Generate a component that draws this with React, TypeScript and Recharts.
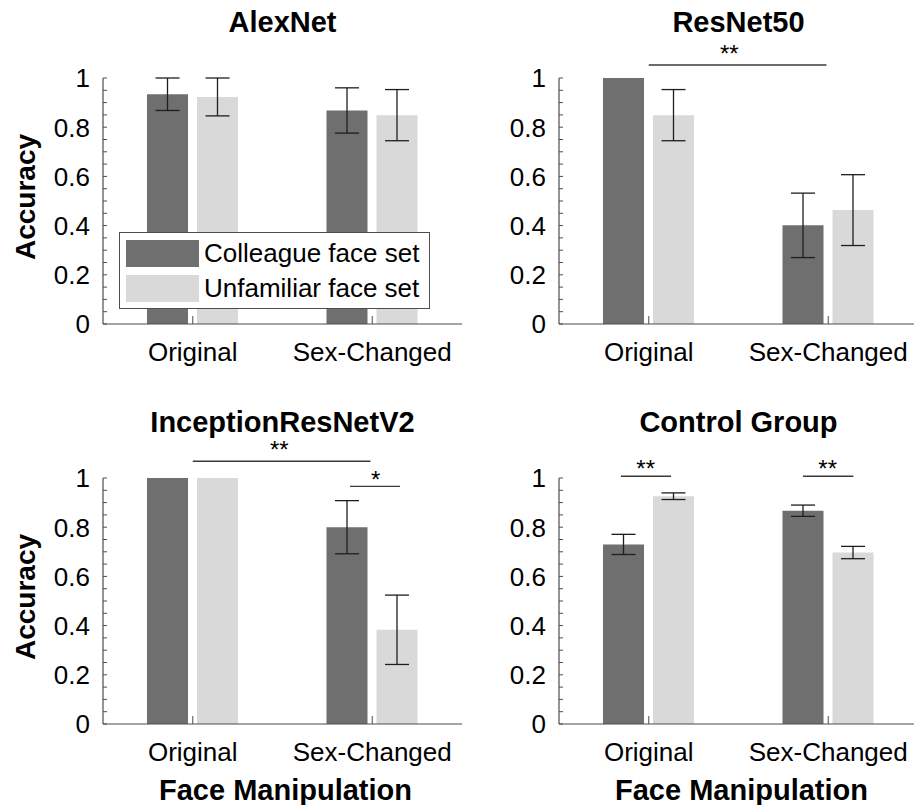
import React from "react";
import {
  BarChart,
  Bar,
  XAxis,
  YAxis,
  ErrorBar,
  Legend,
  ReferenceLine,
  ReferenceDot
} from "recharts";

const FONT = '"Liberation Sans", Arial, Helvetica, sans-serif';
const DARK = "#6f6f6f";
const LIGHT = "#d9d9d9";
const AXIS = "#4d4d4d";

const categories = ["Original", "Sex-Changed"];
const categoryPos = [1, 2];
const yTicks = [
  0, 0.05, 0.1, 0.15, 0.2, 0.25, 0.3, 0.35, 0.4, 0.45, 0.5,
  0.55, 0.6, 0.65, 0.7, 0.75, 0.8, 0.85, 0.9, 0.95, 1
];
const majorTicks = [0, 0.2, 0.4, 0.6, 0.8, 1];

// accuracy and error (half length) per category
const alexColleague = [0.934, 0.868];
const alexColleagueErr = [0.066, 0.092];
const alexUnfamiliar = [0.923, 0.849];
const alexUnfamiliarErr = [0.077, 0.104];

const resColleague = [1.0, 0.401];
const resColleagueErr = [0, 0.131];
const resUnfamiliar = [0.849, 0.463];
const resUnfamiliarErr = [0.104, 0.144];

const incColleague = [1.0, 0.8];
const incColleagueErr = [0, 0.108];
const incUnfamiliar = [1.0, 0.383];
const incUnfamiliarErr = [0, 0.141];

const ctrlColleague = [0.73, 0.867];
const ctrlColleagueErr = [0.041, 0.023];
const ctrlUnfamiliar = [0.926, 0.697];
const ctrlUnfamiliarErr = [0.0135, 0.025];

// significance brackets, x in category units (1 = Original, 2 = Sex-Changed)
const resLines = [{ x1: 1, x2: 1.99, y: 1.053 }];
const resStars = [{ x: 1.449, y: 1.121, text: "**" }];
const incLines = [
  { x1: 1, x2: 1.99, y: 1.068 },
  { x1: 1.876, x2: 2.155, y: 0.966 }
];
const incStars = [
  { x: 1.482, y: 1.136, text: "**" },
  { x: 2.019, y: 1.017, text: "*" }
];
const ctrlLines = [
  { x1: 0.845, x2: 1.124, y: 1.007 },
  { x1: 1.859, x2: 2.14, y: 1.007 }
];
const ctrlStars = [
  { x: 0.983, y: 1.061, text: "**" },
  { x: 1.997, y: 1.061, text: "**" }
];

const buildRows = (c: number[], ce: number[], u: number[], ue: number[]) =>
  categories.map((name, i) => ({
    name,
    pos: categoryPos[i],
    colleague: c[i],
    colleagueErr: ce[i],
    unfamiliar: u[i],
    unfamiliarErr: ue[i]
  }));

const YTick = (props: any) => {
  const { x, y, payload } = props;
  const v = payload.value;
  const major = majorTicks.some((m) => Math.abs(m - v) < 1e-6);
  return (
    <g>
      <line x1={x} x2={x + 4} y1={y} y2={y} stroke={AXIS} strokeWidth={1} />
      {major && (
        <text
          x={x - 13}
          y={y}
          dy="0.36em"
          textAnchor="end"
          fontSize={26}
          fill="#000"
          fontFamily={FONT}
        >
          {String(v)}
        </text>
      )}
    </g>
  );
};

const XTick = (props: any) => {
  const { x, y, payload } = props;
  return (
    <g>
      <line x1={x} x2={x} y1={y} y2={y - 8} stroke={AXIS} strokeWidth={1} />
      <text x={x} y={y + 37} textAnchor="middle" fontSize={26} fill="#000" fontFamily={FONT}>
        {payload.value}
      </text>
    </g>
  );
};

const LegendBox = (props: any) => {
  const { payload } = props;
  return (
    <div
      style={{
        position: "relative",
        width: 309,
        height: 75,
        border: `1px solid ${AXIS}`,
        background: "#fff",
        fontFamily: FONT,
        fontSize: 26,
        color: "#000"
      }}
    >
      {(payload || []).map((p: any, i: number) => (
        <div key={p.value} style={{ position: "absolute", left: 0, top: 0 }}>
          <div
            style={{
              position: "absolute",
              left: 6,
              top: 7 + i * 35,
              width: 73,
              height: 27,
              background: p.color
            }}
          />
          <div
            style={{
              position: "absolute",
              left: 84,
              top: 7 + i * 35,
              height: 27,
              lineHeight: "27px",
              whiteSpace: "nowrap"
            }}
          >
            {p.value}
          </div>
        </div>
      ))}
    </div>
  );
};

interface IPanel {
  title: string;
  rows: any[];
  lines: { x1: number; x2: number; y: number }[];
  stars: { x: number; y: number; text: string }[];
  left: number;
  top: number;
  width: number;
  height: number;
  marginRight: number;
  yLabel?: boolean;
  xLabel?: boolean;
  legend?: boolean;
}

const Panel = ({
  title,
  rows,
  lines,
  stars,
  left,
  top,
  width,
  height,
  marginRight,
  yLabel,
  xLabel,
  legend
}: IPanel) => {
  const mBottom = height - 324 - 40;
  return (
    <div style={{ position: "absolute", left, top, width, height }}>
      <div
        style={{
          position: "absolute",
          left: 103,
          top: 8,
          width: 359,
          textAlign: "center",
          fontFamily: FONT,
          fontWeight: "bold",
          fontSize: 29,
          lineHeight: "29px",
          color: "#000"
        }}
      >
        {title}
      </div>
      <BarChart
        width={width}
        height={height}
        data={rows}
        margin={{ top: 78, left: 43, right: marginRight, bottom: mBottom }}
        barSize={41}
        barGap={9}
      >
        <XAxis
          xAxisId="cat"
          dataKey="name"
          height={40}
          interval={0}
          tickLine={false}
          tickSize={0}
          tickMargin={0}
          tick={(p: any) => <XTick {...p} />}
          axisLine={{ stroke: AXIS, strokeWidth: 1.2 }}
          label={
            xLabel
              ? (p: any) => {
                  const vb = p.viewBox || { x: 103, y: 324, width: 359 };
                  return (
                    <text
                      x={vb.x + vb.width / 2 + 3}
                      y={vb.y + 76}
                      textAnchor="middle"
                      fontSize={29}
                      fontWeight="bold"
                      fill="#000"
                      fontFamily={FONT}
                    >
                      Face Manipulation
                    </text>
                  );
                }
              : undefined
          }
        />
        <XAxis
          xAxisId="num"
          dataKey="pos"
          type="number"
          scale="linear"
          domain={[0.5, 2.5]}
          allowDataOverflow
          hide
        />
        <YAxis
          width={60}
          domain={[0, 1]}
          ticks={yTicks}
          interval={0}
          tickLine={false}
          tickSize={0}
          tickMargin={0}
          tick={(p: any) => <YTick {...p} />}
          axisLine={{ stroke: AXIS, strokeWidth: 1.2 }}
          label={
            yLabel
              ? (p: any) => {
                  const vb = p.viewBox || { x: 43, y: 78, height: 246 };
                  const cx = vb.x - 8;
                  const cy = vb.y + vb.height / 2 - 4;
                  return (
                    <text
                      x={cx}
                      y={cy}
                      transform={`rotate(-90, ${cx}, ${cy})`}
                      textAnchor="middle"
                      fontSize={28}
                      fontWeight="bold"
                      fill="#000"
                      fontFamily={FONT}
                    >
                      Accuracy
                    </text>
                  );
                }
              : undefined
          }
        />
        <Bar
          xAxisId="cat"
          dataKey="colleague"
          name="Colleague face set"
          fill={DARK}
          isAnimationActive={false}
        >
          <ErrorBar
            dataKey="colleagueErr"
            width={12}
            stroke="#1e1e1e"
            strokeWidth={1.3}
            isAnimationActive={false}
          />
        </Bar>
        <Bar
          xAxisId="cat"
          dataKey="unfamiliar"
          name="Unfamiliar face set"
          fill={LIGHT}
          isAnimationActive={false}
        >
          <ErrorBar
            dataKey="unfamiliarErr"
            width={12}
            stroke="#1e1e1e"
            strokeWidth={1.3}
            isAnimationActive={false}
          />
        </Bar>
        {lines.map((s, i) => (
          <ReferenceLine
            key={`l${i}`}
            xAxisId="num"
            segment={[
              { x: s.x1, y: s.y },
              { x: s.x2, y: s.y }
            ]}
            stroke="#3a3a3a"
            strokeWidth={1.4}
            ifOverflow="visible"
          />
        ))}
        {stars.map((m, i) => (
          <ReferenceDot
            key={`s${i}`}
            xAxisId="num"
            x={m.x}
            y={m.y}
            r={2}
            fill="none"
            stroke="none"
            ifOverflow="visible"
            label={(p: any) => {
              const vb = p.viewBox;
              return (
                <text
                  x={vb.x + vb.width / 2}
                  y={vb.y + vb.height / 2}
                  dy="0.58em"
                  textAnchor="middle"
                  fontSize={24}
                  fill="#000"
                  fontFamily={FONT}
                >
                  {m.text}
                </text>
              );
            }}
          />
        ))}
        {legend && (
          <Legend
            verticalAlign="middle"
            align="center"
            content={(p: any) => <LegendBox {...p} />}
            wrapperStyle={{ position: "absolute", left: 119, top: 232, width: 311, height: 77 }}
          />
        )}
      </BarChart>
    </div>
  );
};

const App = () => (
  <div
    style={{
      position: "absolute",
      left: 0,
      top: 0,
      width: 914,
      height: 805,
      overflow: "hidden",
      background: "#fff"
    }}
  >
    <Panel
      title="AlexNet"
      rows={buildRows(alexColleague, alexColleagueErr, alexUnfamiliar, alexUnfamiliarErr)}
      lines={[]}
      stars={[]}
      left={0}
      top={0}
      width={470}
      height={400}
      marginRight={8}
      yLabel
      legend
    />
    <Panel
      title="ResNet50"
      rows={buildRows(resColleague, resColleagueErr, resUnfamiliar, resUnfamiliarErr)}
      lines={resLines}
      stars={resStars}
      left={456}
      top={0}
      width={462}
      height={400}
      marginRight={0}
    />
    <Panel
      title="InceptionResNetV2"
      rows={buildRows(incColleague, incColleagueErr, incUnfamiliar, incUnfamiliarErr)}
      lines={incLines}
      stars={incStars}
      left={0}
      top={400}
      width={470}
      height={405}
      marginRight={8}
      yLabel
      xLabel
    />
    <Panel
      title="Control Group"
      rows={buildRows(ctrlColleague, ctrlColleagueErr, ctrlUnfamiliar, ctrlUnfamiliarErr)}
      lines={ctrlLines}
      stars={ctrlStars}
      left={456}
      top={400}
      width={462}
      height={405}
      marginRight={0}
      xLabel
    />
  </div>
);

export default App;
